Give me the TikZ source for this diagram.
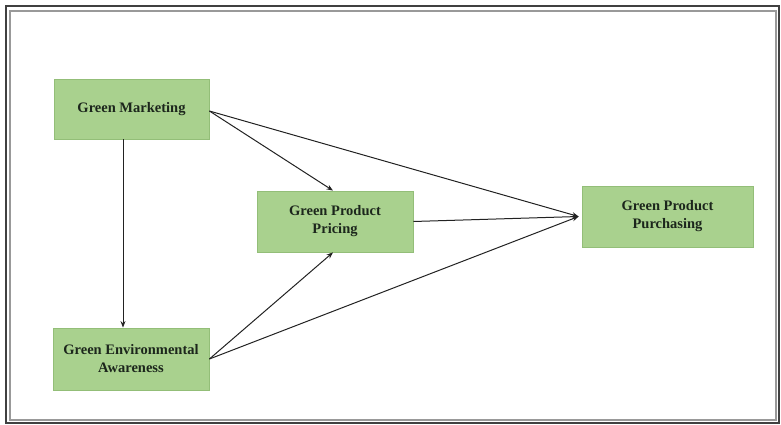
\documentclass[tikz,border=0pt]{standalone}
\usepackage{fontspec}
\setmainfont{Liberation Serif}
\usetikzlibrary{arrows.meta}
\definecolor{boxfill}{HTML}{A9D18E}
\definecolor{boxline}{HTML}{93BE78}
\definecolor{txt}{HTML}{1C261C}
\definecolor{lnk}{HTML}{222222}
\tikzset{
  factor/.style={draw=boxline, line width=0.8pt, fill=boxfill, align=center,
    font=\fontsize{14.5}{18}\selectfont\bfseries, text=txt, inner sep=2pt},
  link/.style={draw=lnk, line width=1pt, -{Stealth[length=6.5pt,width=5pt]}}
}
\begin{document}
\begin{tikzpicture}[x=1pt,y=-1pt]
\useasboundingbox (0,0) rectangle (781,425);
\draw[draw=black!75, line width=1.6pt] (6,6) rectangle (779,423);
\draw[draw=black!40, line width=1.2pt] (10,11) rectangle (776,420);
\node[factor, minimum width=155pt, minimum height=60pt] (gm) at (131.5,109) {Green Marketing};
\node[factor, minimum width=156pt, minimum height=61pt] (gpp) at (335,221.5) {Green Product\\Pricing};
\node[factor, minimum width=171pt, minimum height=61pt] (pur) at (667.5,216.5) {Green Product\\Purchasing};
\node[factor, minimum width=156pt, minimum height=62pt] (gea) at (131,359) {Green Environmental\\Awareness};
\coordinate (gmo) at ([yshift=-2pt]gm.east);
\coordinate (tip) at ([xshift=-3pt]pur.west);
\draw[link] ([xshift=-8.5pt]gm.south) -- ([xshift=-8pt]gea.north);
\draw[link] (gmo) -- ([xshift=-2pt]gpp.north);
\draw[link] (gmo) -- (tip);
\draw[link] (gpp.east) -- (tip);
\draw[link] (gea.east) -- ([xshift=-2pt]gpp.south);
\draw[link] (gea.east) -- (tip);
\end{tikzpicture}
\end{document}
